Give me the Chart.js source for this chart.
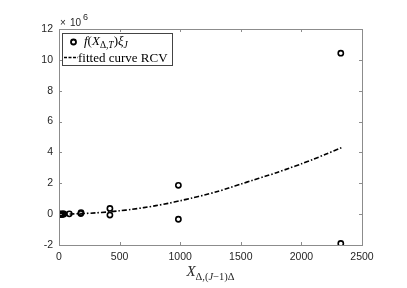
<!DOCTYPE html>
<html>
  <head>
    <title>RCV fit</title>
    <script src="https://cdn.jsdelivr.net/npm/chart.js@4.4.0/dist/chart.umd.min.js"></script>
    <style>
        body { margin: 0; background: #fff; }
        #wrap { width: 407px; height: 288px; }
    </style>
  </head>
  <body>
    <div id="wrap"><canvas id="rcvChart"></canvas></div>
    <script>
      // data, y values in units of 1e6
      var ptX = [3, 6, 10, 14, 18, 22, 27, 33, 40, 85, 180, 182, 420, 420, 985, 985, 2325, 2325];
      var ptY = [0, 0, 0, 0, 0, 0, 0, 0.01, 0.01, 0.02, 0.04, 0.1, 0.37, -0.06, 1.87, -0.33, 10.43, -1.9];
      var fitX = [0, 100, 200, 300, 400, 500, 600, 700, 800, 900, 1000, 1100, 1200, 1300, 1400, 1500, 1600, 1700, 1800, 1900, 2000, 2100, 2200, 2330];
      var fitY = [0, 0.01, 0.04, 0.08, 0.14, 0.22, 0.31, 0.42, 0.55, 0.7, 0.87, 1.05, 1.24, 1.45, 1.69, 1.95, 2.2, 2.45, 2.7, 2.98, 3.26, 3.56, 3.88, 4.3];
      var xTicks = [0, 500, 1000, 1500, 2000, 2500];
      var yTicks = [-2, 0, 2, 4, 6, 8, 10, 12];

      var axisGrey = "#8c8c8c";
      var txtGrey = "#262626";

      function pairs(xs, ys) {
        return xs.map(function (x, i) { return { x: x, y: ys[i] }; });
      }

      // draw text with subscripts, parts: [text, font, dy]
      function richText(ctx, parts, x, y) {
        parts.forEach(function (p) {
          ctx.font = p[1];
          ctx.fillText(p[0], x, y + (p[2] || 0));
          x += ctx.measureText(p[0]).width;
        });
        return x;
      }
      function richWidth(ctx, parts) {
        var w = 0;
        parts.forEach(function (p) { ctx.font = p[1]; w += ctx.measureText(p[0]).width; });
        return w;
      }

      var boxPlugin = {
        id: "matlabBox",
        afterDraw: function (chart) {
          var ctx = chart.ctx, a = chart.chartArea;
          var sx = chart.scales.x, sy = chart.scales.y;
          ctx.save();
          ctx.strokeStyle = axisGrey;
          ctx.lineWidth = 1;
          ctx.strokeRect(a.left + 0.5, a.top + 0.5, a.right - a.left, a.bottom - a.top);
          ctx.beginPath();
          xTicks.forEach(function (t) {
            var px = Math.round(sx.getPixelForValue(t)) + 0.5;
            ctx.moveTo(px, a.bottom); ctx.lineTo(px, a.bottom - 3);
            ctx.moveTo(px, a.top); ctx.lineTo(px, a.top + 3);
          });
          yTicks.forEach(function (t) {
            var py = Math.round(sy.getPixelForValue(t)) + 0.5;
            ctx.moveTo(a.left, py); ctx.lineTo(a.left + 3, py);
            ctx.moveTo(a.right, py); ctx.lineTo(a.right - 3, py);
          });
          ctx.stroke();

          // exponent
          ctx.fillStyle = txtGrey;
          ctx.textBaseline = "alphabetic";
          ctx.textAlign = "left";
          ctx.font = "10px 'Liberation Sans'";
          ctx.fillText("\u00d7", 60, 26);
          ctx.fillText("10", 70, 26);
          ctx.font = "9px 'Liberation Sans'";
          ctx.fillText("6", 83, 20);

          // x label
          var serifI = "italic 15px 'Liberation Serif'";
          var subI = "italic 10.5px 'Liberation Serif'";
          var sub = "10.5px 'Liberation Serif'";
          var lab = [["X", serifI], ["\u0394,(", sub, 4], ["J", subI, 4], ["\u22121)\u0394", sub, 4]];
          var w = richWidth(ctx, lab);
          richText(ctx, lab, (a.left + a.right) / 2 - w / 2, 276);

          // legend
          ctx.fillStyle = "#fff";
          ctx.fillRect(62, 33, 110, 32);
          ctx.strokeStyle = "#444";
          ctx.lineWidth = 1;
          ctx.strokeRect(62.5, 33.5, 110, 32);
          ctx.strokeStyle = "#000";
          ctx.lineWidth = 1.8;
          ctx.beginPath();
          ctx.arc(73.5, 42, 2.5, 0, Math.PI * 2);
          ctx.stroke();
          ctx.lineWidth = 1.6;
          ctx.setLineDash([3, 1.5]);
          ctx.beginPath();
          ctx.moveTo(64, 57.5); ctx.lineTo(78, 57.5);
          ctx.stroke();
          ctx.setLineDash([]);
          ctx.fillStyle = "#000";
          var lf = "italic 13px 'Liberation Serif'";
          var ls = "italic 9.5px 'Liberation Serif'";
          var f1 = [["f", lf], ["(", "13px 'Liberation Serif'"], ["X", lf], ["\u0394,", "9.5px 'Liberation Serif'", 3], ["T", ls, 3],
                    [")", "13px 'Liberation Serif'"], ["\u03be", lf], ["J", ls, 3]];
          richText(ctx, f1, 84, 45);
          ctx.font = "13px 'Liberation Serif'";
          ctx.fillText("fitted curve RCV", 78, 61.5);
          ctx.restore();
        }
      };

      var tickFont = { family: "Liberation Sans", size: 10.5 };
      var ctx = document.getElementById("rcvChart").getContext("2d");
      var rcvChart = new Chart(ctx, {
        type: "scatter",
        data: {
          datasets: [
            {
              label: "points",
              data: pairs(ptX, ptY),
              showLine: false,
              pointRadius: 2.6,
              pointBorderWidth: 1.6,
              pointBorderColor: "#000",
              pointBackgroundColor: "rgba(0,0,0,0)"
            },
            {
              label: "fitted curve RCV",
              data: pairs(fitX, fitY),
              showLine: true,
              borderColor: "#000",
              borderWidth: 1.6,
              borderDash: [5, 2, 1.5, 2],
              pointRadius: 0,
              tension: 0.3
            }
          ]
        },
        options: {
          responsive: true,
          maintainAspectRatio: false,
          animation: false,
          layout: { padding: { top: 29, right: 45, left: 0, bottom: 0 } },
          plugins: { legend: { display: false }, tooltip: { enabled: false } },
          scales: {
            x: {
              type: "linear", min: 0, max: 2500,
              afterFit: function (s) { s.height = 43; },
              afterBuildTicks: function (s) { s.ticks = xTicks.map(function (v) { return { value: v }; }); },
              grid: { display: false, drawTicks: false }, border: { display: false },
              ticks: { color: txtGrey, font: tickFont, padding: 6, maxRotation: 0,
                       callback: function (v) { return String(v); } }
            },
            y: {
              type: "linear", min: -2, max: 12,
              afterFit: function (s) { s.width = 59; },
              afterBuildTicks: function (s) { s.ticks = yTicks.map(function (v) { return { value: v }; }); },
              grid: { display: false, drawTicks: false }, border: { display: false },
              ticks: { color: txtGrey, font: tickFont, padding: 6,
                       callback: function (v) { return String(v); } }
            }
          }
        },
        plugins: [boxPlugin]
      });
    </script>
  </body>
</html>
